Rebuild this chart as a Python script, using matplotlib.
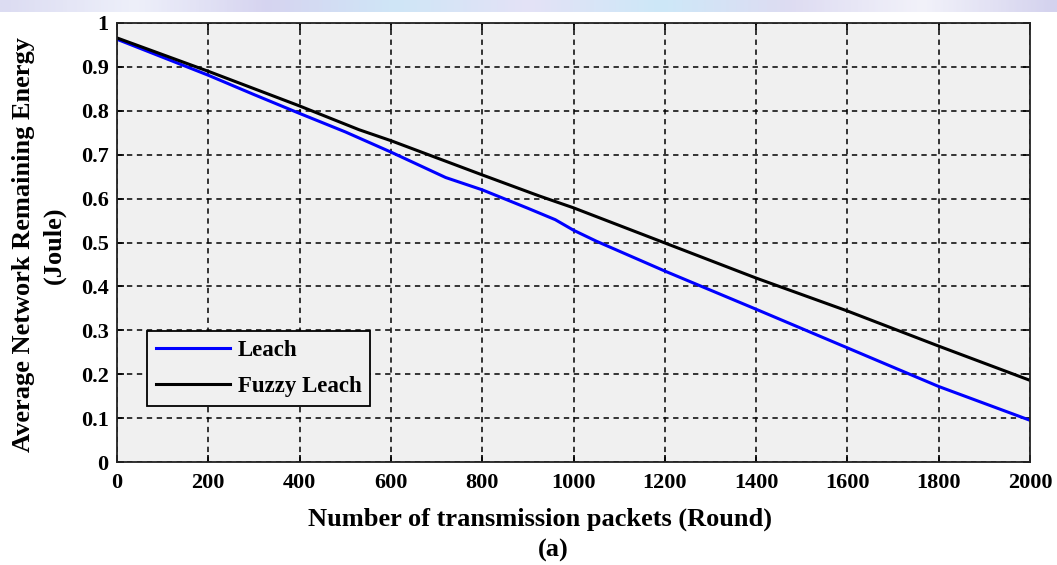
import numpy as np
import matplotlib.pyplot as plt
from matplotlib.colors import LinearSegmentedColormap

plt.rcParams['font.family'] = ['Liberation Serif', 'DejaVu Serif']
plt.rcParams['font.weight'] = 'bold'

# rounds and remaining energy for each protocol
leach_rounds = [0, 100, 200, 300, 400, 500, 600, 720, 800, 900, 960, 1000,
                1050, 1200, 1400, 1600, 1800, 2000]
leach_energy = [0.963, 0.922, 0.881, 0.837, 0.794, 0.752, 0.706, 0.648, 0.620,
                0.578, 0.552, 0.528, 0.503, 0.435, 0.348, 0.260, 0.172, 0.095]

fuzzy_rounds = [0, 200, 400, 530, 600, 800, 925, 1000, 1200, 1400, 1600,
                1800, 2000]
fuzzy_energy = [0.966, 0.890, 0.811, 0.757, 0.732, 0.654, 0.606, 0.579, 0.499,
                0.419, 0.344, 0.264, 0.186]

x_ticks = list(range(0, 2001, 200))
y_ticks = [0, 0.1, 0.2, 0.3, 0.4, 0.5, 0.6, 0.7, 0.8, 0.9, 1]
y_tick_labels = ['0', '0.1', '0.2', '0.3', '0.4', '0.5', '0.6', '0.7', '0.8', '0.9', '1']

W, H = 1057, 565
fig = plt.figure(figsize=(W / 100, H / 100), dpi=100)
fig.patch.set_facecolor('white')

# faint banner strip along the top edge
band = fig.add_axes([0, 1 - 12 / H, 1, 12 / H])
band_cmap = LinearSegmentedColormap.from_list(
    'band', ['#dcdcf2', '#eef0fa', '#d6d4f0', '#cfe6f7', '#e4e2f6', '#cde8f8',
             '#dedcf2', '#f2f2fa', '#d4d2ee'])
band.imshow(np.linspace(0, 1, 400)[None, :], aspect='auto', cmap=band_cmap,
            extent=[0, 1, 0, 1])
band.set_axis_off()

ax = fig.add_axes([117 / W, 1 - 462 / H, (1030 - 117) / W, (462 - 23) / H])
ax.set_facecolor('#f0f0f0')

ax.plot(leach_rounds, leach_energy, color='#0000ff', lw=2.2, label='Leach')
ax.plot(fuzzy_rounds, fuzzy_energy, color='black', lw=2.2, label='Fuzzy Leach')

ax.set_xlim(0, 2000)
ax.set_ylim(0, 1)
ax.set_xticks(x_ticks)
ax.set_yticks(y_ticks)
ax.set_yticklabels(y_tick_labels)
ax.tick_params(direction='in', top=True, right=True, length=5, width=1.2,
               labelsize=16)
ax.tick_params(axis='x', pad=8)
ax.tick_params(axis='y', pad=6)
for lab in ax.get_xticklabels() + ax.get_yticklabels():
    lab.set_fontweight('bold')

ax.grid(True, color='black', linestyle=(0, (3.5, 3)), linewidth=1.1)
for s in ax.spines.values():
    s.set_color('#222222')
    s.set_linewidth(1.3)

leg = ax.legend(loc='lower left', bbox_to_anchor=(30 / 913, 56 / 439),
                borderaxespad=0, fontsize=16.5, frameon=True, fancybox=False,
                edgecolor='black', facecolor='#f0f0f0', framealpha=1,
                handlelength=3.2, handletextpad=0.35, borderpad=0.4,
                labelspacing=0.65)
leg.get_frame().set_linewidth(1.3)
for t in leg.get_texts():
    t.set_fontweight('bold')

fig.text(540 / W, 1 - 519 / H, 'Number of transmission packets (Round)',
         ha='center', va='center', fontsize=19, fontweight='bold')
fig.text(553 / W, 1 - 550 / H, '(a)', ha='center', va='center',
         fontsize=19, fontweight='bold')
fig.text(24 / W, 1 - 245 / H, 'Average Network Remaining Energy',
         rotation=90, ha='center', va='center', fontsize=19,
         fontweight='bold')
fig.text(54 / W, 1 - 245 / H, '(Joule)', rotation=90, ha='center',
         va='center', fontsize=19, fontweight='bold')

fig.savefig('out.png', dpi=100)
